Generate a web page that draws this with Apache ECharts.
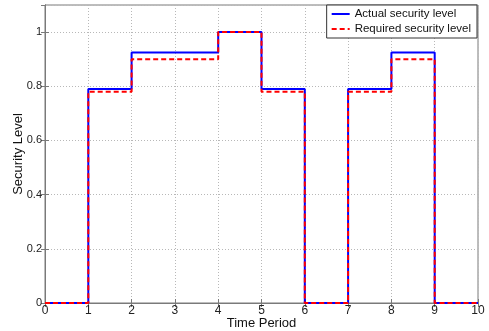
<!DOCTYPE html>
<html>
<head>
<meta charset="utf-8">
<script src="https://cdn.jsdelivr.net/npm/echarts@6/dist/echarts.min.js"></script>
<style>
  html, body { margin: 0; padding: 0; background: #fff; }
  #chart { width: 489px; height: 331px; }
</style>
</head>
<body>
<div id="chart"></div>
<script>
// time period boundaries, value holds from t to t+1
var periods = [0, 1, 2, 3, 4, 5, 6, 7, 8, 9, 10];
var actualLevel = [0, 0.79, 0.925, 0.925, 1, 0.79, 0, 0.79, 0.925, 0, 0];
var requiredLevel = [0, 0.78, 0.9, 0.9, 1, 0.78, 0, 0.78, 0.9, 0, 0];
var yTicks = [0, 0.2, 0.4, 0.6, 0.8, 1];

var font = "Liberation Sans, Arial, sans-serif";
var frameColor = "#7a7a7a";
var gridLine = { show: true, lineStyle: { color: "#b8b8b8", type: [1, 2], width: 1 } };

function pairs(vals) {
  return periods.map(function (t, i) { return [t, vals[i]]; });
}

var chart = echarts.init(document.getElementById("chart"));
chart.setOption({
  animation: false,
  grid: {
    left: 45, right: 11, top: 5, bottom: 28,
    outerBoundsMode: "none",
    containLabel: false,
    show: true, borderColor: frameColor, borderWidth: 1, backgroundColor: "#fff"
  },
  legend: {
    right: 12, top: 5,
    orient: "vertical",
    align: "left",
    backgroundColor: "#fff",
    borderColor: "#333",
    borderWidth: 1,
    borderRadius: 0,
    padding: [3, 6, 3, 4],
    itemGap: 3,
    itemWidth: 18,
    itemHeight: 10,
    itemStyle: { opacity: 0 },
    textStyle: { fontFamily: font, fontSize: 11.5, color: "#111" },
    data: ["Actual security level", "Required security level"]
  },
  xAxis: [{
    type: "value", min: 0, max: 10, interval: 1,
    name: "Time Period", nameLocation: "middle", nameGap: 14, nameMoveOverlap: false,
    nameTextStyle: { fontFamily: font, fontSize: 13, color: "#111" },
    axisLine: { show: true, lineStyle: { color: frameColor } },
    axisTick: { show: true, inside: true, length: 4, lineStyle: { color: frameColor } },
    axisLabel: { fontFamily: font, fontSize: 12, color: "#222", margin: 2 },
    splitLine: gridLine
  }, {
    type: "value", min: 0, max: 10, interval: 1, position: "top",
    axisLine: { show: true, lineStyle: { color: frameColor } },
    axisTick: { show: true, inside: true, length: 4, lineStyle: { color: frameColor } },
    axisLabel: { show: false },
    splitLine: { show: false }
  }],
  yAxis: [{
    type: "value", min: 0, max: 1.1, interval: 0.2,
    name: "Security Level", nameLocation: "middle", nameGap: 20, nameMoveOverlap: false,
    nameTextStyle: { fontFamily: font, fontSize: 13, color: "#111" },
    axisLine: { show: true, lineStyle: { color: frameColor } },
    axisTick: { show: true, inside: true, length: 4, lineStyle: { color: frameColor } },
    axisLabel: {
      fontFamily: font, fontSize: 11, color: "#222", margin: 3, showMaxLabel: false,
      formatter: function (v) {
        var t = yTicks.find(function (y) { return Math.abs(y - v) < 1e-6; });
        return t === undefined ? "" : String(t);
      }
    },
    splitLine: gridLine
  }, {
    type: "value", min: 0, max: 1.1, interval: 0.2, position: "right",
    axisLine: { show: true, lineStyle: { color: frameColor } },
    axisTick: { show: true, inside: true, length: 4, lineStyle: { color: frameColor } },
    axisLabel: { show: false },
    splitLine: { show: false }
  }],
  series: [{
    name: "Actual security level",
    type: "line",
    step: "end",
    symbol: "none",
    color: "#0000ff",
    lineStyle: { color: "#0000ff", width: 2 },
    data: pairs(actualLevel)
  }, {
    name: "Required security level",
    type: "line",
    step: "end",
    symbol: "none",
    color: "#ff0000",
    lineStyle: { color: "#ff0000", width: 2, type: [5, 3] },
    data: pairs(requiredLevel)
  }]
});
</script>
</body>
</html>
